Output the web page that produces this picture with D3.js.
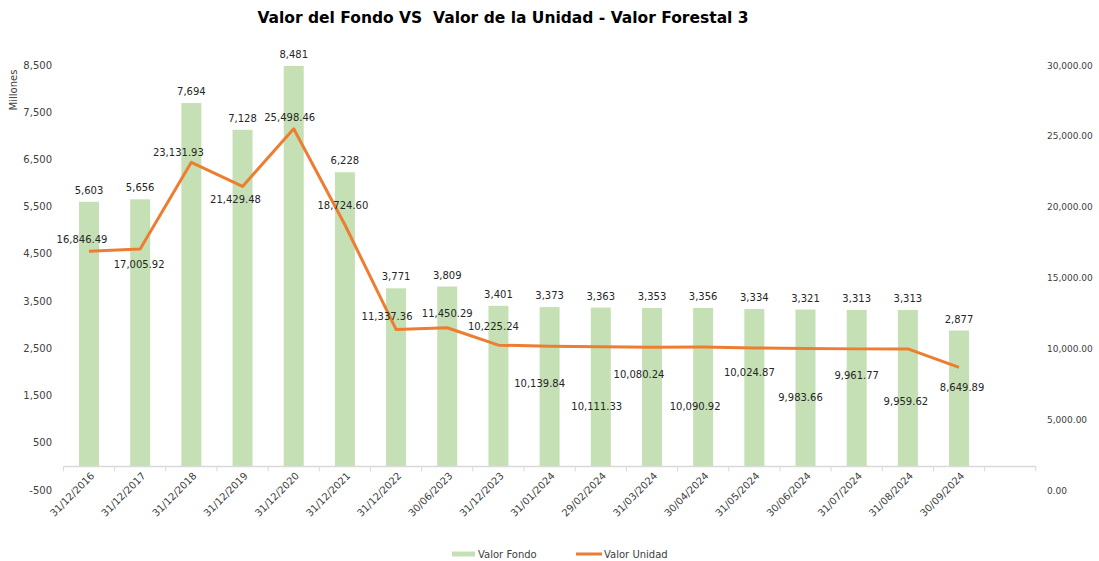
<html>
<head>
<meta charset="utf-8">
<style>
  body { margin: 0; background: #fff; }
  text { font-family: "DejaVu Sans", Verdana, sans-serif; }
  .tick-label { font-size: 10px; fill: #404040; }
  .data-label { font-size: 10px; fill: #262626; }
</style>
</head>
<body>
<svg id="chart" width="1099" height="561"></svg>
<script src="https://cdnjs.cloudflare.com/ajax/libs/d3/7.8.5/d3.min.js"></script>
<script>
// data
const categories = ["31/12/2016","31/12/2017","31/12/2018","31/12/2019","31/12/2020","31/12/2021",
  "31/12/2022","30/06/2023","31/12/2023","31/01/2024","29/02/2024","31/03/2024","30/04/2024",
  "31/05/2024","30/06/2024","31/07/2024","31/08/2024","30/09/2024"]
const valorFondo = [5603,5656,7694,7128,8481,6228,3771,3809,3401,3373,3363,3353,3356,3334,3321,3313,3313,2877]
const valorUnidad = [16846.49,17005.92,23131.93,21429.48,25498.46,18724.60,11337.36,11450.29,10225.24,
  10139.84,10111.33,10080.24,10090.92,10024.87,9983.66,9961.77,9959.62,8649.89]
const leftTicks = [-500,500,1500,2500,3500,4500,5500,6500,7500,8500]
const rightTicks = [0,5000,10000,15000,20000,25000,30000]

// where Excel put the line labels, relative to the point (dx, dy)
const lineLabelOffsets = [[-7,-12],[-1,15],[-13,-10],[-7,13],[-4,-11],[-2,-19],[-9,-13],[0,-14],[-5,-19],
  [-10,37],[-4,60],[-13,27],[-8,59],[-5,25],[-5,49],[0,27],[-2,53],[3,20]]

const svg = d3.select("#chart")
const green = "#c5e0b4", orange = "#ed7d31"

// plain hyphen for negatives
const fmtInt = v => d3.format(",")(v).replace("\u2212", "-")
const fmtDec = v => d3.format(",.2f")(v).replace("\u2212", "-")

let x = d3.scaleBand()
    .domain(categories)
    .range([63.4, 63.4 + 51.18 * categories.length])
let yL = d3.scaleLinear().domain([-500, 8500]).range([490, 65])
let yR = d3.scaleLinear().domain([0, 30000]).range([490, 65])
let barW = 20
let base = yL(0)

// title
svg.append("text")
    .attr("x", 503).attr("y", 23)
    .attr("text-anchor", "middle")
    .style("white-space", "pre")
    .style("font-size", "15.5px").style("font-weight", "bold").style("fill", "#000")
    .text("Valor del Fondo VS  Valor de la Unidad - Valor Forestal 3")

svg.append("text")
    .attr("transform", "translate(17,90) rotate(-90)")
    .attr("text-anchor", "middle")
    .attr("class", "tick-label")
    .text("Millones")

// left axis labels
svg.append("g").selectAll("text").data(leftTicks).join("text")
    .attr("class", "tick-label")
    .attr("x", 52).attr("y", d => yL(d) + 3.5)
    .attr("text-anchor", "end")
    .text(d => fmtInt(d))

// right axis labels
svg.append("g").selectAll("text").data(rightTicks).join("text")
    .attr("class", "tick-label")
    .style("font-size", "9px")
    .attr("x", 1047).attr("y", d => yR(d) + 3.5)
    .text(d => fmtDec(d))

// bars
svg.append("g").selectAll("rect").data(valorFondo).join("rect")
    .attr("x", (d, i) => x(categories[i]) + x.bandwidth() / 2 - barW / 2)
    .attr("width", barW)
    .attr("y", d => yL(d))
    .attr("height", d => base - yL(d))
    .attr("fill", green)

// x axis line + ticks between categories (one empty slot at the end, like excel)
let axisEnd = x.range()[1] + x.step()
svg.append("line")
    .attr("x1", x.range()[0]).attr("x2", axisEnd)
    .attr("y1", base).attr("y2", base)
    .attr("stroke", "#d9d9d9").attr("stroke-width", 1.5)
let tickXs = categories.map(c => x(c)).concat([x.range()[1], axisEnd])
svg.append("g").selectAll("line").data(tickXs).join("line")
    .attr("x1", d => d).attr("x2", d => d)
    .attr("y1", base).attr("y2", base + 5)
    .attr("stroke", "#d9d9d9")

// x labels
svg.append("g").selectAll("text").data(categories).join("text")
    .attr("class", "tick-label")
    .attr("text-anchor", "end")
    .attr("transform", d => `translate(${x(d) + x.bandwidth() / 2 + 6},${base + 10}) rotate(-45)`)
    .text(d => d)

// line
let line = d3.line()
    .x((d, i) => x(categories[i]) + x.bandwidth() / 2)
    .y(d => yR(d))
svg.append("path")
    .datum(valorUnidad)
    .attr("d", line)
    .attr("fill", "none")
    .attr("stroke", orange)
    .attr("stroke-width", 3)
    .attr("stroke-linejoin", "round")

// bar labels
svg.append("g").selectAll("text").data(valorFondo).join("text")
    .attr("class", "data-label")
    .attr("text-anchor", "middle")
    .attr("x", (d, i) => x(categories[i]) + x.bandwidth() / 2)
    .attr("y", d => yL(d) - 8)
    .text(d => fmtInt(d))

// line labels
svg.append("g").selectAll("text").data(valorUnidad).join("text")
    .attr("class", "data-label")
    .attr("text-anchor", "middle")
    .attr("x", (d, i) => x(categories[i]) + x.bandwidth() / 2 + lineLabelOffsets[i][0])
    .attr("y", (d, i) => yR(d) + lineLabelOffsets[i][1] + 3.5)
    .text(d => fmtDec(d))

// legend
let lg = svg.append("g").attr("class", "tick-label")
lg.append("rect").attr("x", 452).attr("y", 551.5).attr("width", 23).attr("height", 5).attr("fill", green)
lg.append("text").attr("x", 478).attr("y", 557.5).text("Valor Fondo")
lg.append("line").attr("x1", 576).attr("x2", 602).attr("y1", 554).attr("y2", 554)
    .attr("stroke", orange).attr("stroke-width", 3)
lg.append("text").attr("x", 604).attr("y", 557.5).text("Valor Unidad")
</script>
</body>
</html>
